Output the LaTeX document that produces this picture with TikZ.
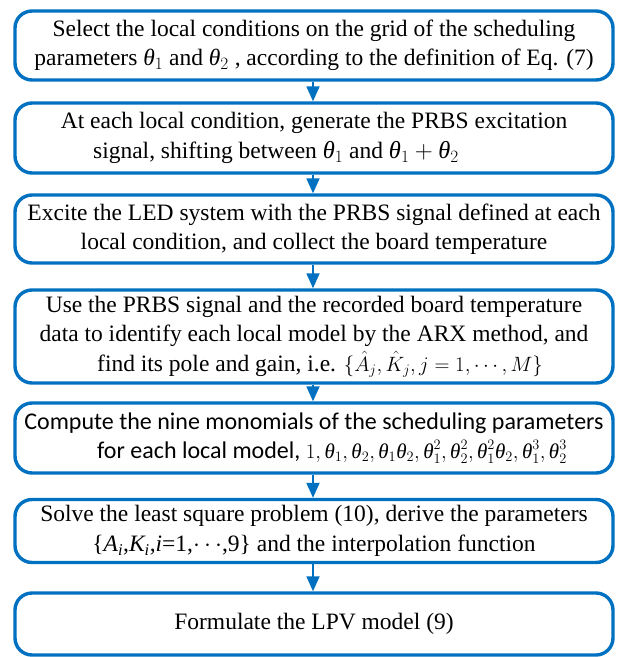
\documentclass[tikz,border=0pt]{standalone}
\usepackage{fontspec}
\setmainfont{Liberation Serif}
\newfontfamily\calibrifont{Carlito}
\newfontfamily\greekfont{Liberation Serif}
\usetikzlibrary{arrows.meta}
\definecolor{flowblue}{RGB}{0,112,192}
% italic theta taken from the text face
\newcommand{\thv}{\mbox{\greekfont\itshape θ}}
% formulas set a little smaller than the surrounding text
\newcommand{\smallmath}[2]{{\fontsize{#1}{29.5}\selectfont$#2$}}
\tikzset{
  stepbox/.style={draw=flowblue, line width=3.4pt, rounded corners=17pt,
    minimum width=598pt, align=center, inner sep=0pt,
    font=\fontsize{23.5}{29.5}\selectfont},
  flowarrow/.style={draw=flowblue, line width=1.8pt,
    -{Triangle[width=13pt,length=15pt]}}
}
\begin{document}
\begin{tikzpicture}[x=1pt,y=-1pt]
\useasboundingbox (0,0) rectangle (627,657);
\node[stepbox, minimum height=69pt] (s1) at (314,45.5)
  {Select the local conditions on the grid of the scheduling\\
   parameters \smallmath{23.5}{\thv_1} and \smallmath{23.5}{\thv_2} , according to the definition of Eq. (7)};
\node[stepbox, minimum height=70pt] (s2) at (314,138)
  {At each local condition, generate the PRBS excitation\\
   signal, shifting between \smallmath{24.5}{\thv_1} and \smallmath{24.5}{\thv_1 + \thv_2}\hspace*{76pt}};
\node[stepbox, minimum height=68pt] (s3) at (314,229)
  {Excite the LED system with the PRBS signal defined at each\\
   local condition, and collect the board temperature};
\node[stepbox, minimum height=93pt] (s4) at (314,336.5)
  {Use the PRBS signal and the recorded board temperature\\
   data to identify each local model by the ARX method, and\\
   \hspace*{12pt}find its pole and gain, i.e. \smallmath{20}{\{\hat{A}_j, \hat{K}_j, j = 1, \cdots, M\}}};
\node[stepbox, minimum height=70pt, font=\calibrifont\fontsize{24}{29.5}\selectfont] (s5) at (314,438)
  {Compute the nine monomials of the scheduling parameters\\
   \hspace*{36pt}for each local model, \smallmath{21}{1, \thv_1, \thv_2, \thv_1\thv_2, \thv_1^2, \thv_2^2, \thv_1^2\thv_2, \thv_1^3, \thv_2^3}};
\node[stepbox, minimum height=63pt] (s6) at (314,531)
  {Solve the least square problem (10), derive the parameters\\
   \{\textit{A\textsubscript{i}},\textit{K\textsubscript{i}},\textit{i}=1,$\cdots$,9\} and the interpolation function};
\node[stepbox, minimum height=62pt] (s7) at (314,624)
  {Formulate the LPV model (9)};
\foreach \a/\b in {s1/s2,s2/s3,s3/s4,s4/s5,s5/s6,s6/s7}
  \draw[flowarrow] ([xshift=-1pt]\a.south) -- ([xshift=-1pt]\b.north);
\end{tikzpicture}
\end{document}
